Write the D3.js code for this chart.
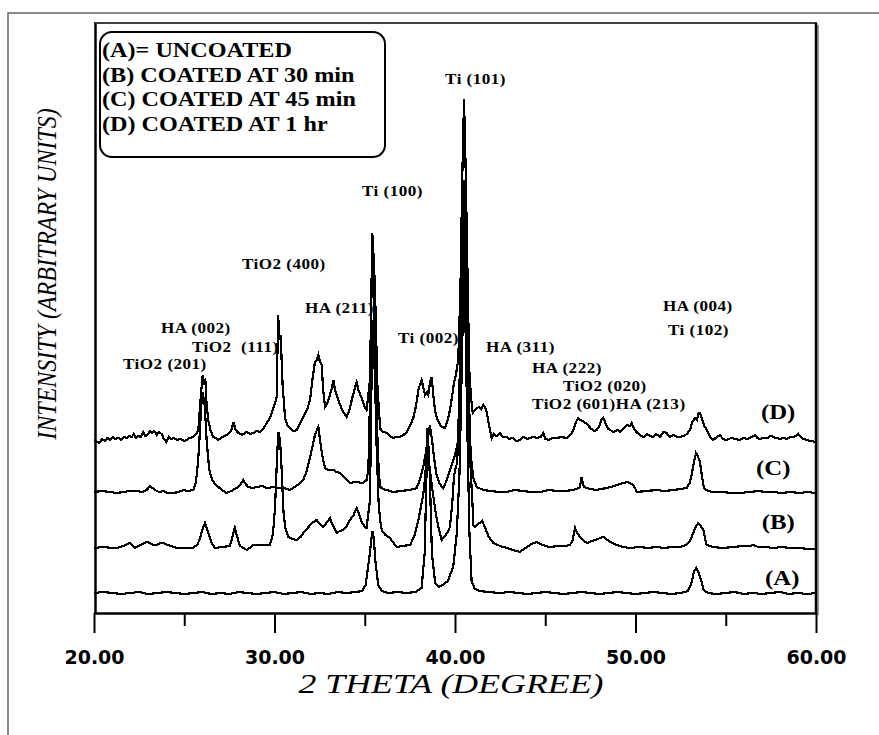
<!DOCTYPE html>
<html>
<head>
<meta charset="utf-8">
<script src="https://cdn.jsdelivr.net/npm/d3@7"></script>
<style>
  html, body { margin: 0; padding: 0; background: #fff; }
  svg { display: block; }
</style>
</head>
<body>
<svg id="chart" width="879" height="735"></svg>
<script>
// ---- data: XRD patterns, [2θ (deg), intensity above own baseline (a.u.)] ----
const patternA = [
  [20.0,0],[20.5,1],[21.0,0],[21.5,-1],[22.0,0],[22.5,1],[23.0,-1],[23.5,0],[24.0,1],[24.5,0],
  [25.0,-1],[25.5,0],[26.0,1],[26.5,-1],[27.0,0],[27.5,-1],[28.0,1],[28.5,0],[29.0,-1],[29.5,0],
  [30.0,1],[30.5,-1],[31.0,0],[31.5,1],[32.0,-1],[32.5,0],[33.0,-1],[33.5,1],[34.0,0],[34.5,1],
  [34.85,2],[35.05,8],[35.25,35],[35.42,62],[35.5,55],[35.6,30],[35.75,8],[35.95,2],[36.3,0],
  [36.8,1],[37.3,0],[37.8,1],[38.15,5],[38.32,40],[38.48,165],[38.6,120],[38.72,40],[38.9,10],
  [39.1,6],[39.3,8],[39.6,12],[39.9,26],[40.1,60],[40.25,120],[40.38,230],[40.5,336],[40.6,250],
  [40.7,150],[40.8,60],[40.92,12],[41.1,4],[41.4,2],[41.8,1],[42.5,0],[43.0,1],[43.5,0],[44.0,-1],
  [44.5,0],[45.0,1],[45.5,0],[46.0,-1],[46.5,0],[47.0,1],[47.5,0],[48.0,-1],[48.5,0],[49.0,1],
  [49.5,0],[50.0,-1],[50.5,0],[51.0,1],[51.5,0],[52.0,-1],[52.5,0],[52.9,2],[53.1,10],[53.25,22],
  [53.38,25],[53.5,20],[53.62,14],[53.78,3],[54.0,0],[54.5,-1],[55.0,0],[55.5,1],[56.0,-1],
  [56.5,0],[57.0,-1],[57.5,0],[58.0,1],[58.5,-1],[59.0,0],[59.5,-1],[60.0,0]
];
const patternB = [
  [20.0,0],[20.5,1],[21.0,0],[21.25,0],[21.63,2],[21.85,4],[22.0,5],[22.15,2],[22.27,0],[22.6,3],
  [22.8,5],[22.92,6],[23.1,5],[23.3,3],[23.47,3],[23.65,5],[23.84,5],[24.05,3],[24.3,2],[24.58,0],
  [25.0,0],[25.5,0],[25.75,4],[25.87,10],[26.0,18],[26.15,25],[26.28,18],[26.42,10],[26.55,4],
  [26.7,0],[27.1,1],[27.53,2],[27.68,12],[27.8,20],[27.92,12],[28.09,2],[28.3,0],[28.46,-2],
  [28.83,3],[29.3,3],[29.75,3],[29.92,15],[30.03,41],[30.14,90],[30.21,116],[30.28,110],[30.34,98],
  [30.42,70],[30.49,38],[30.6,20],[30.77,11],[31.0,9],[31.23,8],[31.45,11],[31.6,15],[31.8,19],
  [31.97,23],[32.15,26],[32.34,28],[32.5,24],[32.7,21],[32.88,25],[33.07,30],[33.2,24],[33.44,15],
  [33.62,17],[33.81,18],[34.0,22],[34.18,28],[34.38,33],[34.55,40],[34.7,33],[34.83,26],[34.97,22],
  [35.1,20],[35.29,48],[35.42,228],[35.5,200],[35.57,168],[35.66,100],[35.76,48],[35.85,28],
  [35.94,18],[36.15,13],[36.4,10],[36.6,5],[36.77,1],[37.1,2],[37.51,3],[37.75,12],[37.97,28],
  [38.1,40],[38.24,53],[38.34,70],[38.43,93],[38.52,85],[38.61,78],[38.72,62],[38.83,48],[38.95,33],
  [39.08,21],[39.26,8],[39.45,12],[39.6,16],[39.72,21],[39.85,45],[39.94,71],[40.03,80],[40.12,85],
  [40.22,140],[40.33,228],[40.42,290],[40.5,328],[40.58,280],[40.68,198],[40.78,130],[40.87,78],
  [40.98,40],[41.02,23],[41.11,21],[41.25,24],[41.39,25],[41.5,27],[41.66,21],[41.85,12],[42.12,5],
  [42.5,2],[42.9,0],[43.23,-2],[43.6,-4],[43.9,0],[44.16,3],[44.35,5],[44.53,6],[44.75,4],
  [45.0,2],[45.26,1],[45.7,2],[46.1,2],[46.37,3],[46.52,8],[46.65,20],[46.78,15],[46.93,11],
  [47.1,8],[47.3,5],[47.6,7],[47.9,9],[48.22,11],[48.45,8],[48.7,5],[48.96,3],[49.3,1],[49.7,0],
  [50.2,1],[50.7,0],[51.17,1],[51.6,0],[52.0,1],[52.47,1],[52.8,3],[53.0,7],[53.11,11],[53.3,20],
  [53.48,25],[53.62,22],[53.76,18],[53.85,10],[53.94,3],[54.3,1],[54.86,0],[55.4,1],[56.0,2],
  [56.35,2],[56.53,3],[56.8,1],[57.2,1],[57.63,0],[58.1,1],[58.6,0],[59.1,0],[59.6,-1],[60.0,-1]
];
const patternC = [
  [20.0,0],[20.45,1],[20.89,0],[21.25,-1],[21.63,0],[22.0,1],[22.37,1],[22.7,0],[22.92,2],[23.1,6],
  [23.25,4],[23.38,2],[23.6,0],[23.84,1],[24.1,-1],[24.4,-1],[24.7,0],[24.95,2],[25.2,1],[25.5,2],
  [25.62,8],[25.69,17],[25.77,32],[25.84,52],[25.92,80],[26.0,100],[26.06,95],[26.11,92],[26.18,72],
  [26.24,52],[26.32,35],[26.39,22],[26.55,12],[26.7,8],[26.89,5],[27.1,2],[27.35,-1],[27.6,1],
  [27.9,4],[28.1,7],[28.27,12],[28.4,8],[28.55,5],[28.8,4],[29.01,5],[29.3,6],[29.6,4],[29.94,5],
  [30.2,4],[30.49,4],[30.7,3],[30.86,2],[31.1,5],[31.35,8],[31.6,12],[31.8,22],[31.97,35],
  [32.1,45],[32.24,57],[32.35,62],[32.43,65],[32.52,52],[32.65,36],[32.8,24],[33.0,22],[33.26,22],
  [33.45,20],[33.63,19],[33.9,14],[34.18,9],[34.5,10],[34.92,9],[35.1,12],[35.2,22],[35.3,100],
  [35.35,192],[35.44,215],[35.5,190],[35.58,142],[35.65,90],[35.72,42],[35.8,15],[35.88,4],
  [36.2,2],[36.58,0],[37.0,1],[37.51,2],[37.88,4],[38.05,12],[38.24,25],[38.37,38],[38.48,52],
  [38.61,67],[38.68,58],[38.76,47],[38.87,30],[38.98,17],[39.15,8],[39.35,4],[39.55,12],[39.72,22],
  [39.88,30],[40.0,37],[40.1,45],[40.18,52],[40.26,110],[40.33,192],[40.42,270],[40.5,312],
  [40.58,260],[40.68,192],[40.76,110],[40.83,52],[40.92,28],[41.02,14],[41.2,5],[41.57,2],
  [42.0,1],[42.4,0],[42.86,0],[43.3,2],[43.78,1],[44.2,0],[44.71,0],[45.2,2],[45.63,1],[46.1,1],
  [46.56,2],[46.89,4],[46.97,10],[47.02,15],[47.08,9],[47.15,5],[47.5,3],[47.85,2],[48.1,3],
  [48.4,4],[48.8,6],[49.14,8],[49.35,9],[49.51,10],[49.7,9],[49.88,7],[50.0,3],[50.07,0],[50.6,1],
  [51.17,2],[51.6,1],[52.1,2],[52.5,3],[52.83,4],[53.0,9],[53.11,17],[53.22,28],[53.35,39],
  [53.45,36],[53.57,30],[53.68,16],[53.79,4],[54.0,1],[54.31,0],[54.8,0],[55.3,-1],[55.79,-1],
  [56.3,0],[56.8,1],[57.2,0],[57.63,0],[58.1,-1],[58.6,0],[59.1,-1],[59.5,0],[60.0,-1]
];
const patternD = [
  [20.0,0],[20.15,-2],[20.3,-3],[20.45,1],[20.6,-1],[20.75,2],[20.9,0],[21.05,3],[21.2,1],[21.35,2],
  [21.5,0],[21.65,3],[21.8,2],[21.95,4],[22.1,3],[22.2,6],[22.3,2],[22.45,4],[22.6,3],[22.73,8],
  [22.85,4],[23.0,6],[23.1,9],[23.2,7],[23.35,9],[23.47,5],[23.6,8],[23.75,6],[23.85,2],[24.0,-2],
  [24.15,3],[24.3,1],[24.45,2],[24.6,0],[24.8,1],[25.0,-1],[25.13,0],[25.3,2],[25.5,3],[25.65,6],
  [25.78,10],[25.9,40],[26.02,65],[26.1,58],[26.17,60],[26.24,35],[26.33,20],[26.45,10],[26.6,3],
  [26.75,2],[26.89,0],[27.1,3],[27.35,5],[27.55,8],[27.65,12],[27.72,18],[27.85,10],[28.0,7],
  [28.2,5],[28.35,7],[28.46,8],[28.65,6],[28.83,7],[29.0,9],[29.2,8],[29.4,12],[29.57,17],
  [29.75,22],[29.85,27],[30.0,35],[30.12,43],[30.2,125],[30.28,100],[30.34,105],[30.45,55],
  [30.58,23],[30.7,15],[30.86,12],[31.05,9],[31.23,10],[31.4,16],[31.6,23],[31.8,30],[31.97,40],
  [32.1,60],[32.24,78],[32.35,80],[32.43,85],[32.52,78],[32.61,75],[32.7,50],[32.8,33],[32.95,38],
  [33.07,45],[33.18,52],[33.26,60],[33.35,50],[33.53,40],[33.75,30],[34.0,23],[34.15,30],[34.28,40],
  [34.42,50],[34.55,58],[34.65,50],[34.83,42],[34.95,35],[35.1,30],[35.29,60],[35.42,207],[35.5,180],
  [35.57,150],[35.7,55],[35.8,25],[35.88,10],[36.05,8],[36.21,7],[36.4,4],[36.58,2],[36.75,3],
  [36.95,3],[37.15,5],[37.32,8],[37.5,14],[37.69,22],[37.85,35],[37.97,50],[38.05,55],[38.15,60],
  [38.25,52],[38.34,45],[38.45,48],[38.52,45],[38.62,58],[38.71,63],[38.8,45],[38.89,30],[39.0,22],
  [39.17,15],[39.3,13],[39.45,12],[39.6,20],[39.72,30],[39.85,45],[39.94,57],[40.05,65],[40.18,80],
  [40.3,150],[40.4,260],[40.5,341],[40.58,280],[40.65,210],[40.72,140],[40.79,70],[40.9,40],
  [40.98,27],[41.1,30],[41.2,32],[41.35,33],[41.45,31],[41.57,35],[41.66,33],[41.76,28],[41.85,18],
  [41.94,10],[42.03,2],[42.15,6],[42.3,4],[42.49,7],[42.65,3],[42.86,3],[43.0,1],[43.2,2],[43.4,-1],
  [43.6,0],[43.8,3],[44.0,1],[44.16,2],[44.35,3],[44.55,2],[44.75,3],[44.89,7],[45.0,1],[45.2,0],
  [45.4,2],[45.63,2],[45.9,3],[46.19,2],[46.4,5],[46.56,10],[46.7,18],[46.83,22],[46.95,20],
  [47.1,19],[47.3,16],[47.5,12],[47.7,9],[47.85,10],[48.0,14],[48.1,20],[48.22,22],[48.35,16],
  [48.5,11],[48.59,10],[48.8,8],[49.0,10],[49.14,8],[49.35,12],[49.55,15],[49.7,14],[49.79,17],
  [49.9,12],[50.05,8],[50.25,5],[50.45,3],[50.65,6],[50.8,4],[50.99,3],[51.15,6],[51.35,3],
  [51.55,8],[51.73,7],[51.9,3],[52.1,5],[52.3,3],[52.47,3],[52.65,4],[52.85,6],[53.02,10],
  [53.15,18],[53.3,22],[53.4,20],[53.5,27],[53.57,27],[53.7,20],[53.82,14],[53.94,10],[54.1,4],
  [54.31,0],[54.5,3],[54.68,5],[54.85,1],[55.05,0],[55.3,2],[55.55,1],[55.79,0],[56.0,2],[56.2,1],
  [56.45,3],[56.62,5],[56.75,2],[56.9,1],[57.1,2],[57.3,2],[57.5,4],[57.63,3],[57.8,2],[58.0,1],
  [58.2,2],[58.38,1],[58.6,3],[58.8,3],[59.02,6],[59.15,3],[59.3,1],[59.5,0],[59.7,-1],[60.0,-2]
];

const seriesNames = ["(A)", "(B)", "(C)", "(D)"];
const seriesOffsets = [20, 65, 121, 173];          // stacking offsets (a.u.)
const seriesLabelAt = [[57.18, 28], [57.0, 84], [56.68, 138], [56.95, 194]]; // [2θ, a.u.]

const legendLines = ["(A)= UNCOATED", "(B) COATED AT 30 min", "(C) COATED AT 45 min", "(D) COATED AT 1 hr"];

// reflection labels and their anchors [2θ, a.u.]
const peakNames = ["Ti (101)", "Ti (100)", "TiO2 (400)", "HA (211)", "HA (002)", "TiO2  (111)",
  "TiO2 (201)", "Ti (002)", "HA (311)", "HA (222)", "TiO2 (020)", "TiO2 (601)HA (213)",
  "HA (004)", "Ti (102)"];
const peakLabelAt = [[39.45, 529], [34.85, 417], [28.2, 344], [31.69, 300], [23.71, 280],
  [25.43, 261], [21.61, 244], [36.84, 270], [41.72, 261], [44.27, 240], [45.98, 222],
  [44.27, 204], [51.52, 302], [51.8, 278]];

const xMajorTicks = [20, 30, 40, 50, 60];
const xMinorTicks = [25, 35, 45, 55];
const xTitle = "2 THETA (DEGREE)";
const yTitle = "INTENSITY (ARBITRARY UNITS)";

// ---- drawing ----
const svg = d3.select("#chart");
const x = d3.scaleLinear().domain([20, 60]).range([94, 816]);
const y = d3.scaleLinear().domain([0, 590]).range([613, 23]);
const serif = "'Liberation Serif', 'Times New Roman', serif";
const SX = 1.18;   // horizontal stretch used by all lettering

// outer frame (open on right and bottom)
svg.append("path")
  .attr("d", "M8,735 L8,13 L879,13")
  .attr("fill", "none").attr("stroke", "#666").attr("stroke-width", 1.5);

// plot frame: top and right edges
const [x0, x1] = x.range();
const [yb, yt] = y.range();
svg.append("line").attr("x1", x0).attr("x2", x1 + 1).attr("y1", yt).attr("y2", yt)
  .attr("stroke", "#000").attr("stroke-width", 1.5);
svg.append("line").attr("x1", x1 + 2).attr("x2", x1 + 2).attr("y1", yt + 2).attr("y2", yb + 2)
  .attr("stroke", "#999").attr("stroke-width", 2);
svg.append("line").attr("x1", x1).attr("x2", x1).attr("y1", yt).attr("y2", yb)
  .attr("stroke", "#000").attr("stroke-width", 2.5);

// left axis (plain line)
const yAxis = svg.append("g").attr("transform", `translate(${x0 + 1},0)`)
  .call(d3.axisLeft(y).tickValues([]).tickSizeOuter(0));
yAxis.select(".domain").attr("stroke", "#000").attr("stroke-width", 2.5);

// bottom axis: major ticks with labels, minor ticks without
const xAxis = svg.append("g").attr("transform", `translate(0,${yb})`)
  .call(d3.axisBottom(x).tickValues(xMajorTicks).tickFormat(d3.format(".2f"))
    .tickSizeInner(20).tickSizeOuter(0).tickPadding(14));
xAxis.select(".domain").attr("stroke", "#000").attr("stroke-width", 2.5);
xAxis.selectAll(".tick line").attr("stroke", "#000").attr("stroke-width", 2);
xAxis.selectAll(".tick text")
  .attr("font-family", "'DejaVu Sans', Verdana, sans-serif")
  .attr("font-weight", "bold").attr("font-size", 19).attr("fill", "#000")
  .attr("dy", "0.9em");

const xMinor = svg.append("g").attr("transform", `translate(0,${yb})`)
  .call(d3.axisBottom(x).tickValues(xMinorTicks).tickFormat("").tickSizeInner(13).tickSizeOuter(0));
xMinor.select(".domain").remove();
xMinor.selectAll(".tick line").attr("stroke", "#000").attr("stroke-width", 2);

// axis titles
svg.append("text")
  .attr("transform", `translate(${(x0 + x1) / 2 - 4},${yb + 80}) scale(1.28,1)`)
  .attr("text-anchor", "middle")
  .attr("font-family", serif).attr("font-style", "italic").attr("font-size", 28)
  .text(xTitle);
svg.append("text")
  .attr("transform", `translate(56,${(yb + yt) / 2 - 44}) rotate(-90) scale(1,${SX})`)
  .attr("text-anchor", "middle")
  .attr("font-family", serif).attr("font-style", "italic").attr("font-size", 24)
  .text(yTitle);

// patterns
const patterns = [patternA, patternB, patternC, patternD];
const g = svg.append("g");
patterns.forEach((pts, i) => {
  const line = d3.line()
    .x(d => x(d[0]))
    .y(d => y(d[1] + seriesOffsets[i]));
  g.append("path")
    .datum(pts)
    .attr("d", line)
    .attr("fill", "none")
    .attr("stroke", "#000")
    .attr("stroke-width", 2.2)
    .attr("stroke-linejoin", "miter")
    .attr("shape-rendering", "crispEdges");
});

// series tags at the right
seriesNames.forEach((name, i) => {
  const [t, v] = seriesLabelAt[i];
  svg.append("text")
    .attr("transform", `translate(${x(t)},${y(v)}) scale(${SX},1)`)
    .attr("font-family", serif).attr("font-weight", "bold").attr("font-size", 21)
    .text(name);
});

// reflection labels
peakNames.forEach((name, i) => {
  const [t, v] = peakLabelAt[i];
  svg.append("text")
    .attr("transform", `translate(${x(t)},${y(v)}) scale(${SX},1)`)
    .attr("font-family", serif).attr("font-weight", "bold").attr("font-size", 14.5)
    .attr("letter-spacing", 0.4)
    .attr("xml:space", "preserve")
    .style("white-space", "pre")
    .text(name);
});

// legend box
svg.append("rect")
  .attr("x", 100).attr("y", 32).attr("width", 285).attr("height", 125)
  .attr("rx", 12).attr("ry", 12)
  .attr("fill", "#fff").attr("stroke", "#000").attr("stroke-width", 2);
legendLines.forEach((s, i) => {
  svg.append("text")
    .attr("transform", `translate(102,${57 + i * 24.5}) scale(${SX},1)`)
    .attr("font-family", serif).attr("font-weight", "bold").attr("font-size", 20.5)
    .text(s);
});
</script>
</body>
</html>
